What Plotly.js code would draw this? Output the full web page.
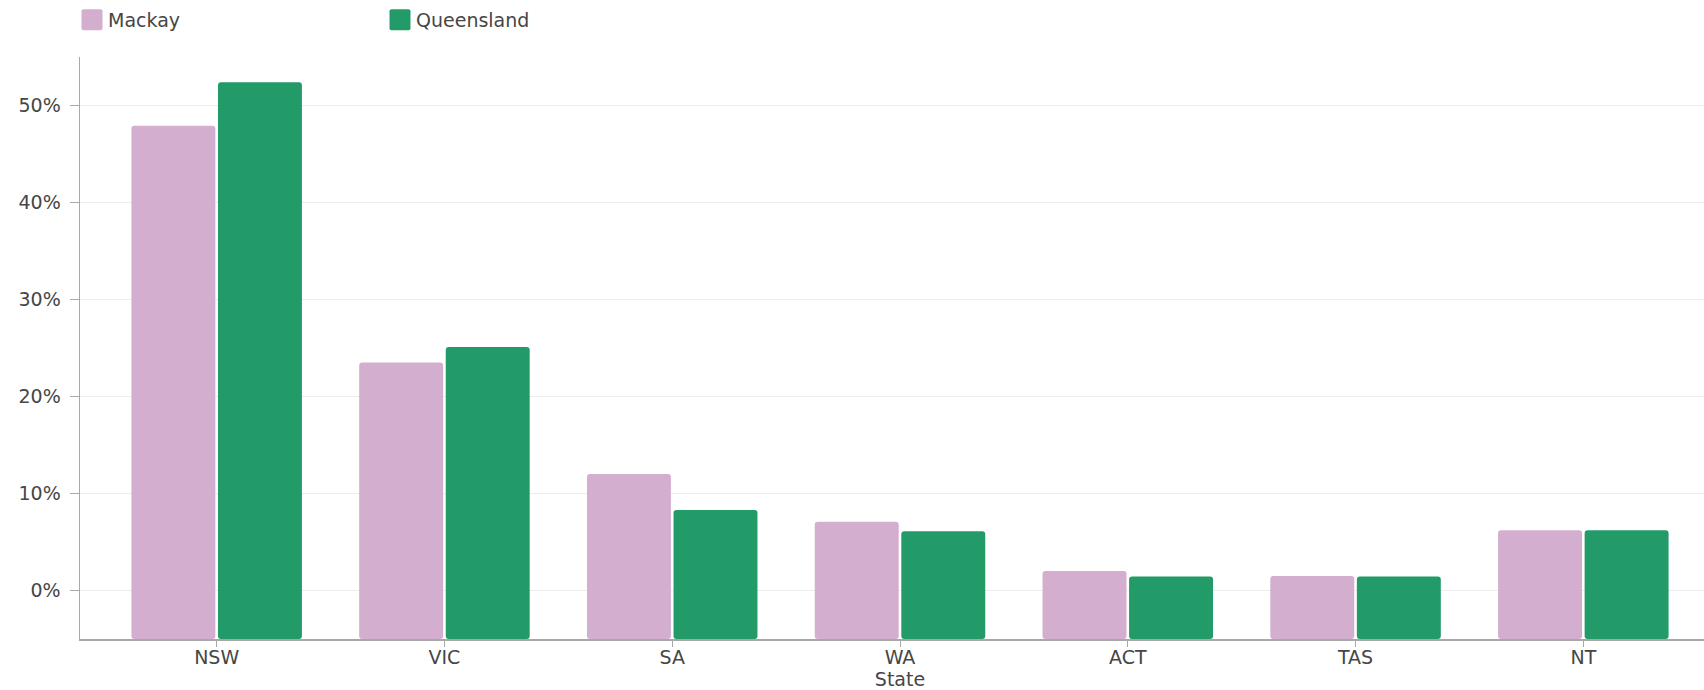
<!DOCTYPE html>
<html>
<head>
<meta charset="utf-8">
<script src="https://cdn.plot.ly/plotly-3.0.1.min.js"></script>
<style>
  html, body { margin: 0; padding: 0; width: 1704px; height: 690px; overflow: hidden; background: #fff; }
  #chart { width: 1720px; height: 690px; }
</style>
</head>
<body>
<div id="chart"></div>
<script>
const states = ["NSW", "VIC", "SA", "WA", "ACT", "TAS", "NT"];
const mackay = [47.9, 23.5, 12.0, 7.1, 2.0, 1.5, 6.2];
const queensland = [52.4, 25.1, 8.3, 6.1, 1.45, 1.45, 6.2];
const seriesNames = ["Mackay", "Queensland"];
const seriesColors = ["#d3aecf", "#229b69"];
const yTickVals = [0, 10, 20, 30, 40, 50];

const Y_MIN = -5;
const Y_MAX = 55;
const FONT = "DejaVu Sans, sans-serif";
const TEXT = "#464646";

function barTrace(name, vals, color) {
  return {
    type: "bar",
    name: name,
    x: states,
    y: vals.map(v => v - Y_MIN),
    base: Y_MIN,
    customdata: vals,
    hovertemplate: "%{x}: %{customdata}%<extra>" + name + "</extra>",
    marker: { color: color, cornerradius: 3, line: { width: 0 } }
  };
}

const data = [
  barTrace(seriesNames[0], mackay, seriesColors[0]),
  barTrace(seriesNames[1], queensland, seriesColors[1])
];

const layout = {
  width: 1720,
  height: 690,
  margin: { l: 80, r: 0, t: 57, b: 51, pad: 0 },
  paper_bgcolor: "#ffffff",
  plot_bgcolor: "#ffffff",
  font: { family: FONT, size: 19, color: TEXT },
  barmode: "group",
  bargap: 0.24,
  bargroupgap: 0.03,
  showlegend: true,
  legend: {
    orientation: "h",
    xref: "container", yref: "container",
    x: 68 / 1720, xanchor: "left",
    y: 1 - 20 / 690, yanchor: "middle",
    entrywidth: 263, entrywidthmode: "pixels",
    font: { family: FONT, size: 19, color: TEXT },
    bgcolor: "rgba(0,0,0,0)"
  },
  xaxis: {
    type: "category",
    range: [-0.6, 6.6],
    showline: true, linecolor: "#a8a8a8", linewidth: 1.5,
    ticks: "outside", ticklen: 6, tickcolor: "#a8a8a8", tickwidth: 1,
    ticklabelstandoff: -5,
    showgrid: false, zeroline: false,
    tickfont: { family: FONT, size: 19, color: TEXT },
    title: { text: "State", font: { family: FONT, size: 19, color: TEXT }, standoff: 4 }
  },
  yaxis: {
    range: [Y_MIN, Y_MAX],
    tickvals: yTickVals,
    ticktext: yTickVals.map(v => v + "%"),
    showline: true, linecolor: "#a8a8a8", linewidth: 1.5,
    ticks: "outside", ticklen: 9, tickcolor: "#a8a8a8", tickwidth: 1,
    ticklabelstandoff: 5,
    showgrid: true, gridcolor: "#ededed", gridwidth: 1.5,
    zeroline: false,
    tickfont: { family: FONT, size: 19, color: TEXT }
  }
};

Plotly.newPlot("chart", data, layout, { displayModeBar: false, staticPlot: true }).then(function (gd) {
  // enlarge legend swatches to rounded squares like the reference
  gd.querySelectorAll(".legend .legendpoints path").forEach(function (p) {
    p.setAttribute("d", "M-10.5,-8.5Q-10.5,-10.5 -8.5,-10.5H8.5Q10.5,-10.5 10.5,-8.5V8.5Q10.5,10.5 8.5,10.5H-8.5Q-10.5,10.5 -10.5,8.5Z");
    p.setAttribute("transform", "translate(24,0)");
  });
});
</script>
</body>
</html>
